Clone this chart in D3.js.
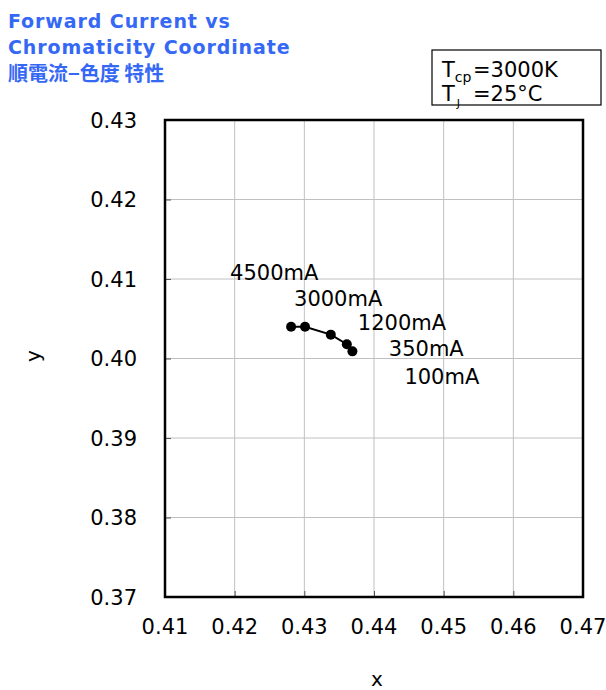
<!DOCTYPE html>
<html>
<head>
<meta charset="utf-8">
<script src="https://cdn.jsdelivr.net/npm/d3@7"></script>
<style>
  body { margin: 0; background: #fff; }
  svg text { font-family: "DejaVu Sans", Verdana, sans-serif; }
</style>
</head>
<body>
<svg id="chart" width="606" height="690"></svg>
<script>
"use strict"
// values
var currents = ["4500mA", "3000mA", "1200mA", "350mA", "100mA"];
var cieX = [0.4281, 0.4301, 0.4338, 0.4361, 0.4369];
var cieY = [0.4040, 0.4040, 0.4030, 0.4018, 0.4009];
var xTicks = [0.41, 0.42, 0.43, 0.44, 0.45, 0.46, 0.47];
var yTicks = [0.37, 0.38, 0.39, 0.40, 0.41, 0.42, 0.43];

// where the current labels sit (px offset from point)
var labelOff = [[-61, -47], [-11, -21], [27, -5], [42, 12], [52, 33]];

var svg = d3.select("svg#chart");
var pLeft = 165, pRight = 583, pTop = 120, pBottom = 597;

var x = d3.scaleLinear().domain([0.41, 0.47]).range([pLeft, pRight]);
var y = d3.scaleLinear().domain([0.37, 0.43]).range([pBottom, pTop]);

var blue = "#3568f5";

// title
var title = svg.append("g").attr("fill", blue).attr("font-weight", "bold");
title.append("text").attr("x", 8).attr("y", 28).attr("font-size", 19)
  .attr("letter-spacing", 0.9).text("Forward Current vs");
title.append("text").attr("x", 8).attr("y", 54).attr("font-size", 19)
  .attr("letter-spacing", 0.9).text("Chromaticity Coordinate");
title.append("text").attr("x", 8).attr("y", 81).attr("font-size", 20)
  .style("font-family", "'Noto Sans CJK TC', sans-serif")
  .text("順電流−色度 特性");

// grid
svg.append("g").selectAll("line")
    .data(xTicks.slice(1, -1))
  .enter().append("line")
    .attr("x1", function(d) { return x(d); }).attr("x2", function(d) { return x(d); })
    .attr("y1", pTop).attr("y2", pBottom)
    .attr("stroke", "#c0c0c0").attr("stroke-width", 1);

svg.append("g").selectAll("line")
    .data(yTicks.slice(1, -1))
  .enter().append("line")
    .attr("y1", function(d) { return y(d); }).attr("y2", function(d) { return y(d); })
    .attr("x1", pLeft).attr("x2", pRight)
    .attr("stroke", "#c0c0c0").attr("stroke-width", 1);

// axes with inside ticks
var xAxis = svg.append("g")
    .attr("transform", "translate(0," + pBottom + ")")
    .call(d3.axisTop(x).tickValues(xTicks).tickSize(6).tickFormat(""));
var yAxis = svg.append("g")
    .attr("transform", "translate(" + pLeft + ",0)")
    .call(d3.axisRight(y).tickValues(yTicks).tickSize(6).tickFormat(""));
[xAxis, yAxis].forEach(function(a) {
  a.select(".domain").remove();
  a.selectAll("line").attr("stroke", "#555");
});

// tick labels
svg.append("g").selectAll("text")
    .data(xTicks)
  .enter().append("text")
    .attr("x", function(d) { return x(d); })
    .attr("y", 634)
    .attr("text-anchor", "middle")
    .attr("font-size", 21)
    .text(function(d) { return d3.format(".2f")(d); });

svg.append("g").selectAll("text")
    .data(yTicks)
  .enter().append("text")
    .attr("x", 137)
    .attr("y", function(d) { return y(d) + 7.5; })
    .attr("text-anchor", "end")
    .attr("font-size", 21)
    .text(function(d) { return d3.format(".2f")(d); });

// frame
svg.append("rect")
    .attr("x", pLeft).attr("y", pTop)
    .attr("width", pRight - pLeft).attr("height", pBottom - pTop)
    .attr("fill", "none").attr("stroke", "#000").attr("stroke-width", 2.5);

// axis titles
svg.append("text").attr("x", 377).attr("y", 686).attr("text-anchor", "middle")
    .attr("font-size", 20).text("x");
svg.append("text").attr("transform", "translate(40,356) rotate(-90)")
    .attr("text-anchor", "middle").attr("font-size", 20).text("y");

// series
var pts = cieX.map(function(v, i) { return [v, cieY[i]]; });
var line = d3.line()
    .x(function(d) { return x(d[0]); })
    .y(function(d) { return y(d[1]); });

svg.append("path")
    .datum(pts)
    .attr("d", line)
    .attr("fill", "none").attr("stroke", "#000").attr("stroke-width", 2);

svg.append("g").selectAll("circle")
    .data(pts)
  .enter().append("circle")
    .attr("cx", function(d) { return x(d[0]); })
    .attr("cy", function(d) { return y(d[1]); })
    .attr("r", 5)
    .attr("fill", "#000");

svg.append("g").selectAll("text")
    .data(currents)
  .enter().append("text")
    .attr("x", function(d, i) { return x(cieX[i]) + labelOff[i][0]; })
    .attr("y", function(d, i) { return y(cieY[i]) + labelOff[i][1]; })
    .attr("font-size", 21)
    .text(function(d) { return d; });

// condition box
svg.append("rect")
    .attr("x", 432).attr("y", 50).attr("width", 169).attr("height", 55)
    .attr("fill", "#fff").attr("stroke", "#000").attr("stroke-width", 1.2);
var t1 = svg.append("text").attr("x", 442).attr("y", 77).attr("font-size", 21);
t1.append("tspan").text("T");
t1.append("tspan").attr("font-size", 14).attr("dy", 5).text("cp");
t1.append("tspan").attr("dy", -5).attr("x", 473).text("=3000K");
var t2 = svg.append("text").attr("x", 442).attr("y", 101).attr("font-size", 21);
t2.append("tspan").text("T");
t2.append("tspan").attr("font-size", 11).attr("dy", 6).attr("dx", 2).text("J");
t2.append("tspan").attr("dy", -6).attr("x", 473).text("=25°C");
</script>
</body>
</html>
